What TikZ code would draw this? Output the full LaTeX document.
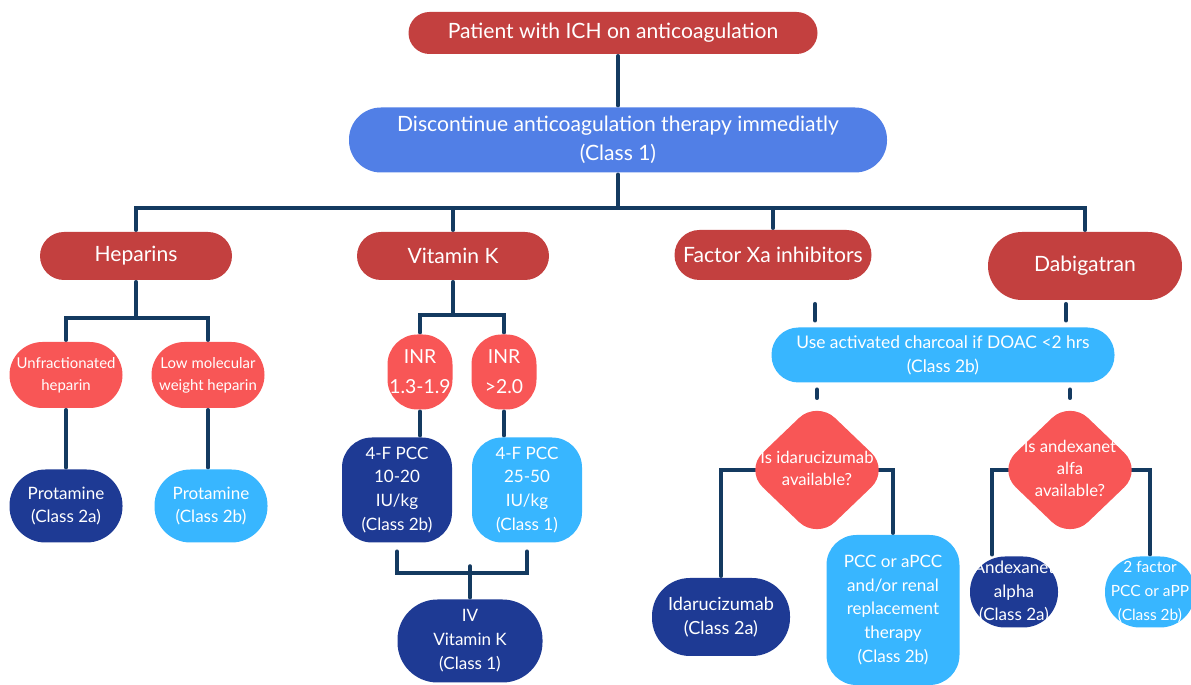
\documentclass[tikz,border=0pt]{standalone}
\usepackage{fontspec}
\setmainfont{Lato}
\usepackage{tikz}
\usetikzlibrary{shapes.geometric,backgrounds}

\definecolor{ichred}{HTML}{C3403F}
\definecolor{coral}{HTML}{F85656}
\definecolor{royal}{HTML}{517FE6}
\definecolor{navy}{HTML}{1E3A94}
\definecolor{sky}{HTML}{38B6FF}
\definecolor{ink}{HTML}{143A60}

\begin{document}
\begin{tikzpicture}[x=0.02cm,y=-0.02cm,line width=2pt,
    wh/.style 2 args={minimum width=#1*0.02cm,minimum height=#2*0.02cm},
    rc/.style={rounded corners=#1*0.02cm},
    card/.style={fill=#1,text=white,align=center,inner sep=0pt},
    big/.style={font=\fontsize{12}{16.5}\selectfont},
    mid/.style={font=\fontsize{9.7}{13.6}\selectfont},
    small/.style={font=\fontsize{8.5}{12.5}\selectfont},
    ask/.style={diamond,aspect=1,fill=coral,text=white,inner sep=0pt,
      wh={146}{140},rc=25,font=\fontsize{9.5}{12.5}\selectfont},
    link/.style={draw=ink,line width=2pt,line cap=round}]
  \useasboundingbox (0,0) rectangle (1191,685);

  % top of the tree
  \node[card=ichred,big,wh={409}{42},rc=21] (pt) at (613,33) {Patient with ICH on anticoagulation};
  \node[card=royal,big,wh={538}{65},rc=32] (dc) at (618,140) {Discontinue anticoagulation therapy immediatly\\(Class 1)};

  % the four drug groups
  \node[card=ichred,big,wh={192}{48},rc=24] (hep) at (136,256) {Heparins};
  \node[card=ichred,big,wh={192}{48},rc=24] (vk) at (453,256) {Vitamin K};
  \node[card=ichred,big,wh={197}{50},rc=25] (fxa) at (773,255) {Factor Xa inhibitors};
  \node[card=ichred,big,wh={194}{68},rc=34] (dab) at (1085,266) {Dabigatran};

  % heparins
  \node[card=coral,small,wh={113}{66},rc=33] (ufh) at (66,375) {Unfractionated\\heparin};
  \node[card=coral,small,wh={113}{66},rc=33] (lmw) at (208,375) {Low molecular\\weight heparin};
  \node[card=navy,mid,wh={113}{73},rc=36] (pro1) at (66,506) {Protamine\\(Class 2a)};
  \node[card=sky,mid,wh={113}{73},rc=36] (pro2) at (211,506) {Protamine\\(Class 2b)};

  % vitamin K
  \node[card=coral,font=\fontsize{11}{17}\selectfont,wh={65}{75},rc=30] (inr1) at (420,372) {INR\\1.3-1.9};
  \node[card=coral,font=\fontsize{11}{17}\selectfont,wh={65}{75},rc=30] (inr2) at (504,372) {INR\\>2.0};
  \node[card=navy,mid,wh={110}{105},rc=30] (pcc1) at (397,490) {4-F PCC\\10-20\\IU/kg\\(Class 2b)};
  \node[card=sky,mid,wh={110}{105},rc=30] (pcc2) at (527,490) {4-F PCC\\25-50\\IU/kg\\(Class 1)};
  \node[card=navy,mid,wh={145}{83},rc=40] (ivk) at (470,641) {IV\\Vitamin K\\(Class 1)};

  % DOACs
  \node[card=sky,font=\fontsize{9.9}{13.6}\selectfont,wh={343}{55},rc=27] (chc) at (943,355) {Use activated charcoal if DOAC <2 hrs\\(Class 2b)};
  \node[ask] (d1) at (817,470) {\makebox[0pt]{\begin{tabular}{@{}c@{}}Is idarucizumab\\available?\end{tabular}}};
  \node[ask] (d2) at (1070,470) {\makebox[0pt]{\begin{tabular}{@{}c@{}}Is andexanet\\alfa\\available?\end{tabular}}};
  \node[card=navy,font=\fontsize{10.3}{13.6}\selectfont,wh={138}{78},rc=38] (idz) at (721,617) {Idarucizumab\\(Class 2a)};
  \node[card=sky,mid,wh={133}{150},rc=30] (pcc3) at (893,610) {PCC or aPCC\\and/or renal\\replacement\\therapy\\(Class 2b)};
  \node[card=navy,mid,wh={88}{71},rc=35] (anx) at (1014,592) {Andexanet\\alpha\\(Class 2a)};
  \node[card=sky,font=\fontsize{8.8}{13.6}\selectfont,wh={90}{71},rc=35] (fac2) at (1150,592) {2 factor\\PCC or aPP\\(Class 2b)};

  \begin{scope}[on background layer]
    \draw[link] (dc.north |- pt.south) -- (dc.north);
    \draw[link] (dc.south) -- (dc.south |- 0,208);
    \draw[link] (hep.north) |- (dab.north |- 0,208) -- (dab.north);
    \foreach \n in {vk,fxa}
      \draw[link] (\n.north) -- (\n.north |- 0,208);

    \draw[link] (hep.south) -- (hep.south |- 0,318);
    \draw[link] (ufh.north) |- (lmw.north |- 0,318) -- (lmw.north);
    \draw[link] (ufh.south) -- (pro1.north);
    \draw[link] (lmw.south) -- (lmw.south |- pro2.north);

    \draw[link] (vk.south) -- (vk.south |- 0,315);
    \draw[link] (inr1.north) |- (inr2.north |- 0,315) -- (inr2.north);
    \draw[link] (inr1.south) -- (inr1.south |- pcc1.north);
    \draw[link] (inr2.south) -- (inr2.south |- pcc2.north);
    \draw[link] ([yshift=-.14cm]pcc1.south) |- ([yshift=-.14cm]pcc2.south |- 0,566) -- ([yshift=-.14cm]pcc2.south);
    \draw[link] (ivk.north) -- (ivk.north |- 0,566);

    \draw[link,shorten <=.44cm,shorten >=.1cm] (fxa.south -| 815,0) -- (chc.north -| 815,0);
    \draw[link,shorten <=.04cm,shorten >=.1cm] (dab.south -| 1066,0) -- (chc.north -| 1066,0);
    \draw[link,shorten <=.1cm] (d1.north |- chc.south) -- (d1.north);
    \draw[link,shorten <=.1cm] (d2.north |- chc.south) -- (d2.north);

    \draw[link] (d1.center) -| (idz.north);
    \draw[link] (d1.center) -| (pcc3.north);
    \draw[link] (d2.center) -| ([xshift=-.44cm]anx.north);
    \draw[link] (d2.center) -| (fac2.north);
  \end{scope}
\end{tikzpicture}
\end{document}
